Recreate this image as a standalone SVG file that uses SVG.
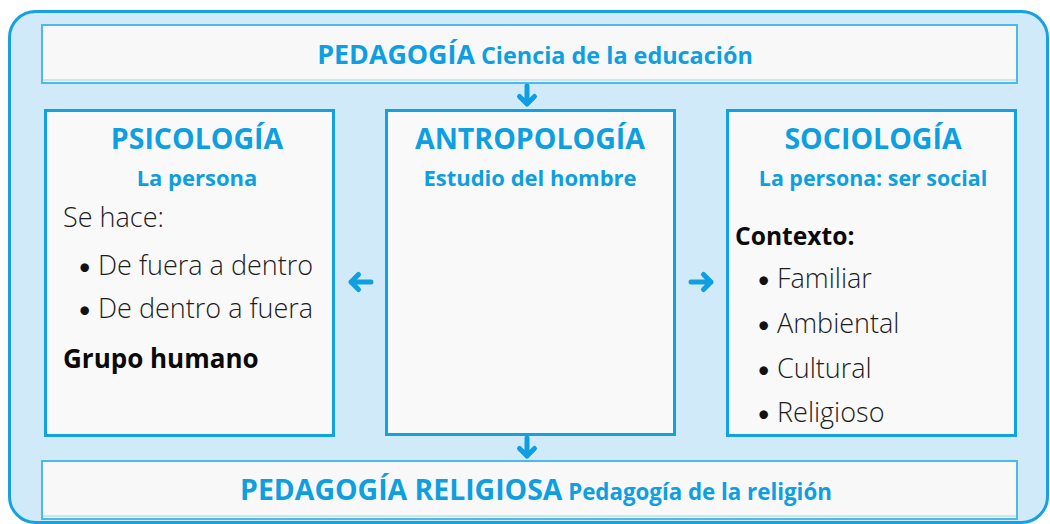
<svg xmlns="http://www.w3.org/2000/svg" width="1050" height="524" viewBox="0 0 1050 524">
<defs>
<style>
.bg{fill:#d1eaf9;stroke:#17a1e2;stroke-width:3}
.band{fill:#f8f8f9;stroke:#4db8ec;stroke-width:2}
.box{fill:#f9f9fa;stroke:#12a2e2;stroke-width:3}
.t{font-family:"Open Sans",Lato,"Liberation Sans",sans-serif}
.blue{fill:#0d9fe0;font-weight:700}
.h{font-size:28.5px}
.s{font-size:22px}
.body{fill:#1c1c1c;font-weight:300;font-size:27px}
.bold{fill:#0a0a0a;font-weight:700}
.bu{font-family:Lato,"Liberation Sans",sans-serif;font-weight:400;fill:#111;font-size:23px}
.arr{fill:none;stroke:#0f9fe0;stroke-width:5;stroke-linecap:round;stroke-linejoin:round}
</style>
</defs>
<rect class="bg" x="9.5" y="11.5" width="1038" height="511" rx="26"/>
<g id="pedagogia">
<rect class="band" x="42" y="25" width="975" height="58"/>
<line x1="43" y1="80" x2="1016" y2="80" stroke="#9ad3f2" stroke-width="1"/>
<text class="t blue" x="535" y="64" text-anchor="middle"><tspan font-size="26.8">PEDAGOGÍA</tspan><tspan font-size="23.4"> Ciencia de la educación</tspan></text>
</g>
<g id="psicologia">
<rect class="box" x="45.5" y="110.5" width="288" height="325"/>
<text class="t blue h" x="197" y="149" text-anchor="middle">PSICOLOGÍA</text>
<text class="t blue s" x="197" y="186" text-anchor="middle">La persona</text>
<text class="t body" x="63" y="227">Se hace:</text>
<text class="t body" x="78" y="275"><tspan class="bu">•</tspan><tspan x="98">De fuera a dentro</tspan></text>
<text class="t body" x="78" y="318"><tspan class="bu">•</tspan><tspan x="98">De dentro a fuera</tspan></text>
<text class="t bold" x="63" y="368" font-size="26">Grupo humano</text>
</g>
<g id="antropologia">
<rect class="box" x="386.5" y="110.5" width="288" height="324"/>
<text class="t blue h" x="530" y="149" text-anchor="middle">ANTROPOLOGÍA</text>
<text class="t blue s" x="530" y="186" text-anchor="middle">Estudio del hombre</text>
</g>
<g id="sociologia">
<rect class="box" x="727.5" y="110.5" width="288" height="325"/>
<text class="t blue h" x="873" y="149" text-anchor="middle">SOCIOLOGÍA</text>
<text class="t blue" x="873" y="186" text-anchor="middle" font-size="21.4">La persona: ser social</text>
<text class="t bold" x="735" y="245" font-size="24.6">Contexto:</text>
<text class="t body" x="757" y="288"><tspan class="bu">•</tspan><tspan x="777">Familiar</tspan></text>
<text class="t body" x="757" y="333"><tspan class="bu">•</tspan><tspan x="777">Ambiental</tspan></text>
<text class="t body" x="757" y="378"><tspan class="bu">•</tspan><tspan x="777">Cultural</tspan></text>
<text class="t body" x="757" y="422"><tspan class="bu">•</tspan><tspan x="777">Religioso</tspan></text>
</g>
<g id="pedagogia-religiosa">
<rect class="band" x="42" y="461" width="975" height="58"/>
<line x1="43" y1="516" x2="1016" y2="516" stroke="#9ad3f2" stroke-width="1"/>
<text class="t blue" x="536" y="500" text-anchor="middle"><tspan font-size="28.4">PEDAGOGÍA RELIGIOSA</tspan><tspan font-size="22.3"> Pedagogía de la religión</tspan></text>
</g>
<g id="connectors">
<path class="arr" d="M527 86V104M519.5 96.5L527 104L534.5 96.5"/>
<path class="arr" d="M371 282H351M358.5 274.5L351 282L358.5 289.5"/>
<path class="arr" d="M691 282H711M703.5 274.5L711 282L703.5 289.5"/>
<path class="arr" d="M527 438V456M519.5 448.5L527 456L534.5 448.5"/>
</g>
</svg>
